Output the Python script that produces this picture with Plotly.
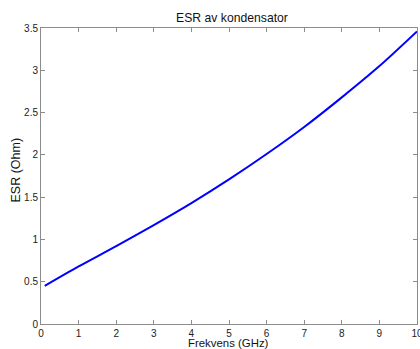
import plotly.graph_objects as go

# Data
freq_ghz = [0.1, 1, 2, 3, 4, 5, 6, 7, 8, 9, 10]
esr_ohm = [0.45, 0.68, 0.92, 1.17, 1.43, 1.71, 2.01, 2.33, 2.68, 3.05, 3.46]

x_ticks = [0, 1, 2, 3, 4, 5, 6, 7, 8, 9, 10]
y_ticks = [0, 0.5, 1, 1.5, 2, 2.5, 3, 3.5]
y_ticklabels = ["0", "0.5", "1", "1.5", "2", "2.5", "3", "3.5"]

title_text = "ESR av kondensator"
x_title = "Frekvens (GHz)"
y_title = "ESR (Ohm)"

axis_gray = "#8c8c8c"
text_color = "#111111"
font_family = "Liberation Sans, Arial, sans-serif"

fig = go.Figure()
fig.add_trace(go.Scatter(
    x=freq_ghz, y=esr_ohm, mode="lines",
    line=dict(color="#0000ff", width=2, shape="spline", smoothing=0.8),
    showlegend=False,
))

axis_common = dict(
    showgrid=False, zeroline=False,
    showline=True, linecolor=axis_gray, linewidth=1,
    ticks="inside", ticklen=4, tickcolor=axis_gray, tickwidth=1,
    mirror="ticks", automargin=False, ticklabeloverflow="allow",
    tickfont=dict(family=font_family, size=10, color="#222222"),
)

W, H = 420, 349
fig.update_layout(
    width=W, height=H,
    margin=dict(l=41, r=3, t=28, b=25, pad=0),
    paper_bgcolor="white", plot_bgcolor="white",
    font=dict(family=font_family, color=text_color),
    title=dict(text=title_text, x=232 / W, xanchor="center",
               y=1 - 17.7 / H, yanchor="middle",
               font=dict(family=font_family, size=12.2, color=text_color)),
    xaxis=dict(range=[0, 10], tickvals=x_ticks, **axis_common),
    yaxis=dict(range=[0, 3.5], tickvals=y_ticks, ticktext=y_ticklabels,
               **axis_common),
    annotations=[
        dict(text=x_title, xref="paper", yref="paper",
             x=(228 - 41) / (W - 44), y=-(342.5 - 324) / (H - 53),
             xanchor="center", yanchor="middle", showarrow=False,
             font=dict(family=font_family, size=11.4, color=text_color)),
        dict(text=y_title, xref="paper", yref="paper",
             x=-(41 - 15) / (W - 44), y=(324 - 170.5) / (H - 53),
             xanchor="center", yanchor="middle", showarrow=False,
             textangle=-90,
             font=dict(family=font_family, size=12.5, color=text_color)),
    ],
)

fig.write_html("out.html")
